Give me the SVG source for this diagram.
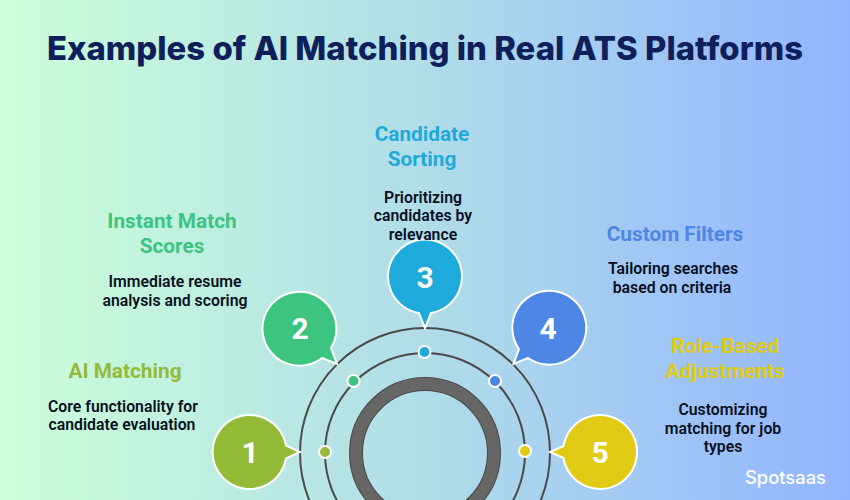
<svg xmlns="http://www.w3.org/2000/svg" width="850" height="500" viewBox="0 0 850 500">
<style>
.h{font-family:"Roboto","Liberation Sans",sans-serif;font-weight:700;font-size:20.800px;text-anchor:middle}
.d{font-family:"Roboto","Liberation Sans",sans-serif;font-weight:600;font-size:15.800px;fill:#0b0f1e;text-anchor:middle}
.n{font-family:"Roboto","Liberation Sans",sans-serif;font-weight:700;font-size:30px;fill:#fff;text-anchor:middle}
.b{stroke:#fff;stroke-width:2}
.r{fill:none;stroke:#4a4a4a;stroke-width:2}
.p{stroke:#fff;stroke-width:2}
</style>
<defs><linearGradient id="bg" x1="0" y1="0" x2="1" y2="0"><stop offset="0" stop-color="#ccffd9"/><stop offset="0.5" stop-color="#b0dde8"/><stop offset="1" stop-color="#92b4ff"/></linearGradient></defs>
<rect width="850" height="500" fill="url(#bg)"/>
<text x="425" y="60" textLength="756" lengthAdjust="spacingAndGlyphs" style="font-family:'Inter','Liberation Sans',sans-serif;font-weight:800;font-size:33px;fill:#0f1f5c;text-anchor:middle">Examples of AI Matching in Real ATS Platforms</text>
<g id="connectors">
<circle class="r" cx="425" cy="453" r="125"/>
<circle class="r" cx="425" cy="453" r="100"/>
<circle cx="425" cy="453" r="69" fill="none" stroke="#4a4a4a" stroke-width="14"/>
<circle cx="425" cy="453" r="69" fill="none" stroke="#666" stroke-width="12"/>
</g>
<g id="node-1">
<path class="b" fill="#94bb37" d="M286 458.500L300 452L286 445.500A37 37 0 1 0 286 458.500Z"/>
<circle class="p" cx="325" cy="452" r="6" fill="#94bb37"/>
<text class="n" x="250" y="463">1</text>
<text class="h" x="125" y="378" fill="#94bb37">AI Matching</text>
<text class="d" x="123" y="411.500">Core functionality for</text>
<text class="d" x="122" y="429.500">candidate evaluation</text>
</g>
<g id="node-2">
<path class="b" fill="#3dc481" d="M322 358L337 364L331 348A37 37 0 1 0 322 358Z"/>
<circle class="p" cx="353.500" cy="381" r="6" fill="#3dc481"/>
<text class="n" x="300" y="339">2</text>
<text class="h" x="172" y="228" fill="#3dc481">Instant Match</text>
<text class="h" x="172" y="253" fill="#3dc481">Scores</text>
<text class="d" x="175" y="286.500">Immediate resume</text>
<text class="d" x="175" y="305.500">analysis and scoring</text>
</g>
<g id="node-3">
<path class="b" fill="#1eaada" d="M419 313L425 328L431 313A37 37 0 1 0 419 313Z"/>
<circle class="p" cx="424.500" cy="352" r="6" fill="#1eaada"/>
<text class="n" x="425" y="288">3</text>
<text class="h" x="422" y="141" fill="#1eaada">Candidate</text>
<text class="h" x="422" y="166" fill="#1eaada">Sorting</text>
<text class="d" x="423" y="202.500">Prioritizing</text>
<text class="d" x="423" y="220.500">candidates by</text>
<text class="d" x="423" y="239.500">relevance</text>
</g>
<g id="node-4">
<path class="b" fill="#4d86e5" d="M519 349L513.500 364L528 358A37 37 0 1 0 519 349Z"/>
<circle class="p" cx="495" cy="381" r="6" fill="#4d86e5"/>
<text class="n" x="548" y="339">4</text>
<text class="h" x="675" y="241" fill="#4d86e5">Custom Filters</text>
<text class="d" x="673" y="273.500">Tailoring searches</text>
<text class="d" x="672" y="292.500">based on criteria</text>
</g>
<g id="node-5">
<path class="b" fill="#e1ca14" d="M563.500 446L550 452L563.500 458A37 37 0 1 0 563.500 446Z"/>
<circle class="p" cx="525" cy="451" r="6" fill="#e1ca14"/>
<text class="n" x="600" y="463">5</text>
<text class="h" x="725" y="353" fill="#e1ca14">Role-Based</text>
<text class="h" x="725" y="378" fill="#e1ca14">Adjustments</text>
<text class="d" x="723" y="414.500">Customizing</text>
<text class="d" x="723" y="433.500">matching for job</text>
<text class="d" x="723" y="451.500">types</text>
</g>
<text x="745" y="484" textLength="81" lengthAdjust="spacingAndGlyphs" style="font-family:'Inter','Liberation Sans',sans-serif;font-weight:500;font-size:18px;fill:#fff">Spotsaas</text>
</svg>
